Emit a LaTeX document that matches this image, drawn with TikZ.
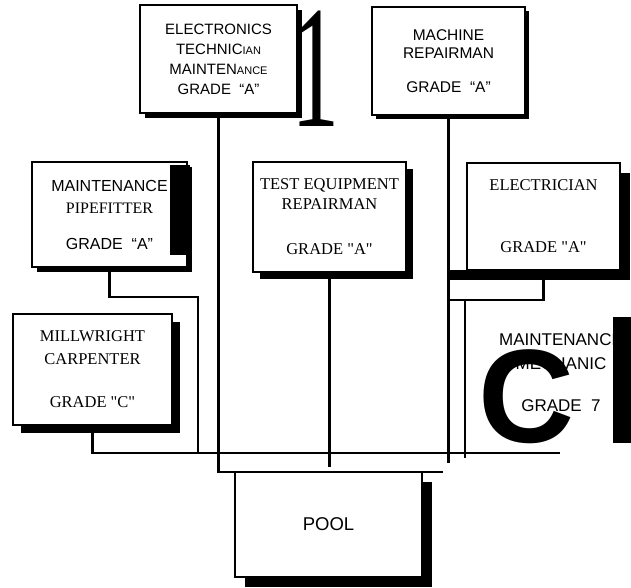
\documentclass[tikz,border=0pt]{standalone}
\usepackage{fontspec}
\setmainfont{Liberation Serif}
\setsansfont{Liberation Sans}
\usetikzlibrary{shadows}

\newcommand{\lowcaps}[1]{{\fontsize{11}{20}\selectfont #1}}

\tikzset{
  jobbox/.style={draw, line width=2pt, fill=white, inner sep=0pt, align=center,
    general shadow={fill=black, shadow xshift=#1, shadow yshift=-#1}},
  jobbox/.default=5pt,
  link/.style={line width=2.4pt},
  sanstext/.style={font=\sffamily\fontsize{15}{20}\selectfont},
  seriftext/.style={font=\rmfamily\fontsize{16.5}{20}\selectfont},
}

\begin{document}
\begin{tikzpicture}[x=1pt, y=-1pt]
    \useasboundingbox (0,0) rectangle (631,588);

    % job boxes
    \node[jobbox, sanstext, minimum width=157pt, minimum height=108pt] (elec) at (218.5, 59)
        {ELECTRONICS\\TECHNIC\lowcaps{IAN}\\MAINTEN\lowcaps{ANCE}\\GRADE\ \ “A”};
    \node[jobbox=4pt, sanstext, font=\sffamily\fontsize{15.5}{18.5}\selectfont,
        minimum width=153pt, minimum height=108pt] (mach) at (448.5, 61)
        {MACHINE\\REPAIRMAN\\[15pt]GRADE\ \ “A”};
    \node[jobbox, font=\fontsize{16}{22.5}\selectfont,
        minimum width=155pt, minimum height=105pt] (pipe) at (109.5, 214.5)
        {{\sffamily MAINTENANCE}\\{\rmfamily PIPEFITTER}\\[13pt]{\sffamily GRADE\ \ “A”}};
    \node[jobbox=7pt, seriftext, minimum width=153pt, minimum height=110pt] (test) at (329.5, 217)
        {TEST EQUIPMENT\\REPAIRMAN\\[25pt]GRADE \textquotedbl A\textquotedbl};
    \node[jobbox=10pt, seriftext, minimum width=153pt, minimum height=107pt] (elect) at (543.5, 216.5)
        {ELECTRICIAN\\[42pt]GRADE \textquotedbl A\textquotedbl};
    \node[jobbox=8pt, seriftext, font=\rmfamily\fontsize{16.5}{23}\selectfont,
        minimum width=159pt, minimum height=111pt] (mill) at (92.5, 369.5)
        {MILLWRIGHT\\CARPENTER\\[20pt]GRADE \textquotedbl C\textquotedbl};
    \node[font=\sffamily\fontsize{17}{24}\selectfont, align=center] (mech) at (561, 373)
        {MAINTENANCE\\MECHANIC\\[18pt]GRADE\ \ 7};
    \node[jobbox=10pt, font=\sffamily\fontsize{18.5}{22}\selectfont,
        minimum width=187pt, minimum height=105pt] (pool) at (328.5, 524.5) {POOL};

    % black marks of the copy
    \fill (170,165) rectangle (190,255);
    \fill (448,270) rectangle (480,280);
    \fill (613,317) rectangle (632,443);
    \node[font=\rmfamily\fontsize{175}{175}\selectfont, inner sep=0pt] (one) at (316, 69)
        {\scalebox{0.55}[1]{1}};
    \node[font=\sffamily\bfseries\fontsize{133}{133}\selectfont, inner sep=0pt] (bigc) at (527, 397) {C};

    % lines
    \coordinate (busL) at (91, 453);
    \coordinate (busR) at (560, 453);
    \coordinate (pipebend) at (198, 297);
    \coordinate (poolR) at (443, 472);
    \coordinate (machend) at (447, 463);
    \coordinate (testend) at (331, 467);
    \coordinate (elecdrop) at (465, 300);
    \coordinate (elecfoot) at (465, 458);

    \draw[link] (busL) -- (busR);
    \draw[link] (mill.south) -- (mill.south |- busL);
    \draw[link] (pipe.south) |- (pipebend) -- (pipebend |- busL);
    \draw[link] (elec.south) |- (poolR);
    \draw[link] (mach.south) -- (mach.south |- machend);
    \draw[link] (test.south) -- (test.south |- testend);
    \draw[link] (elect.south) |- (mach.south |- elecdrop);
    \draw[link] (elecdrop) -- (elecfoot);
\end{tikzpicture}
\end{document}
